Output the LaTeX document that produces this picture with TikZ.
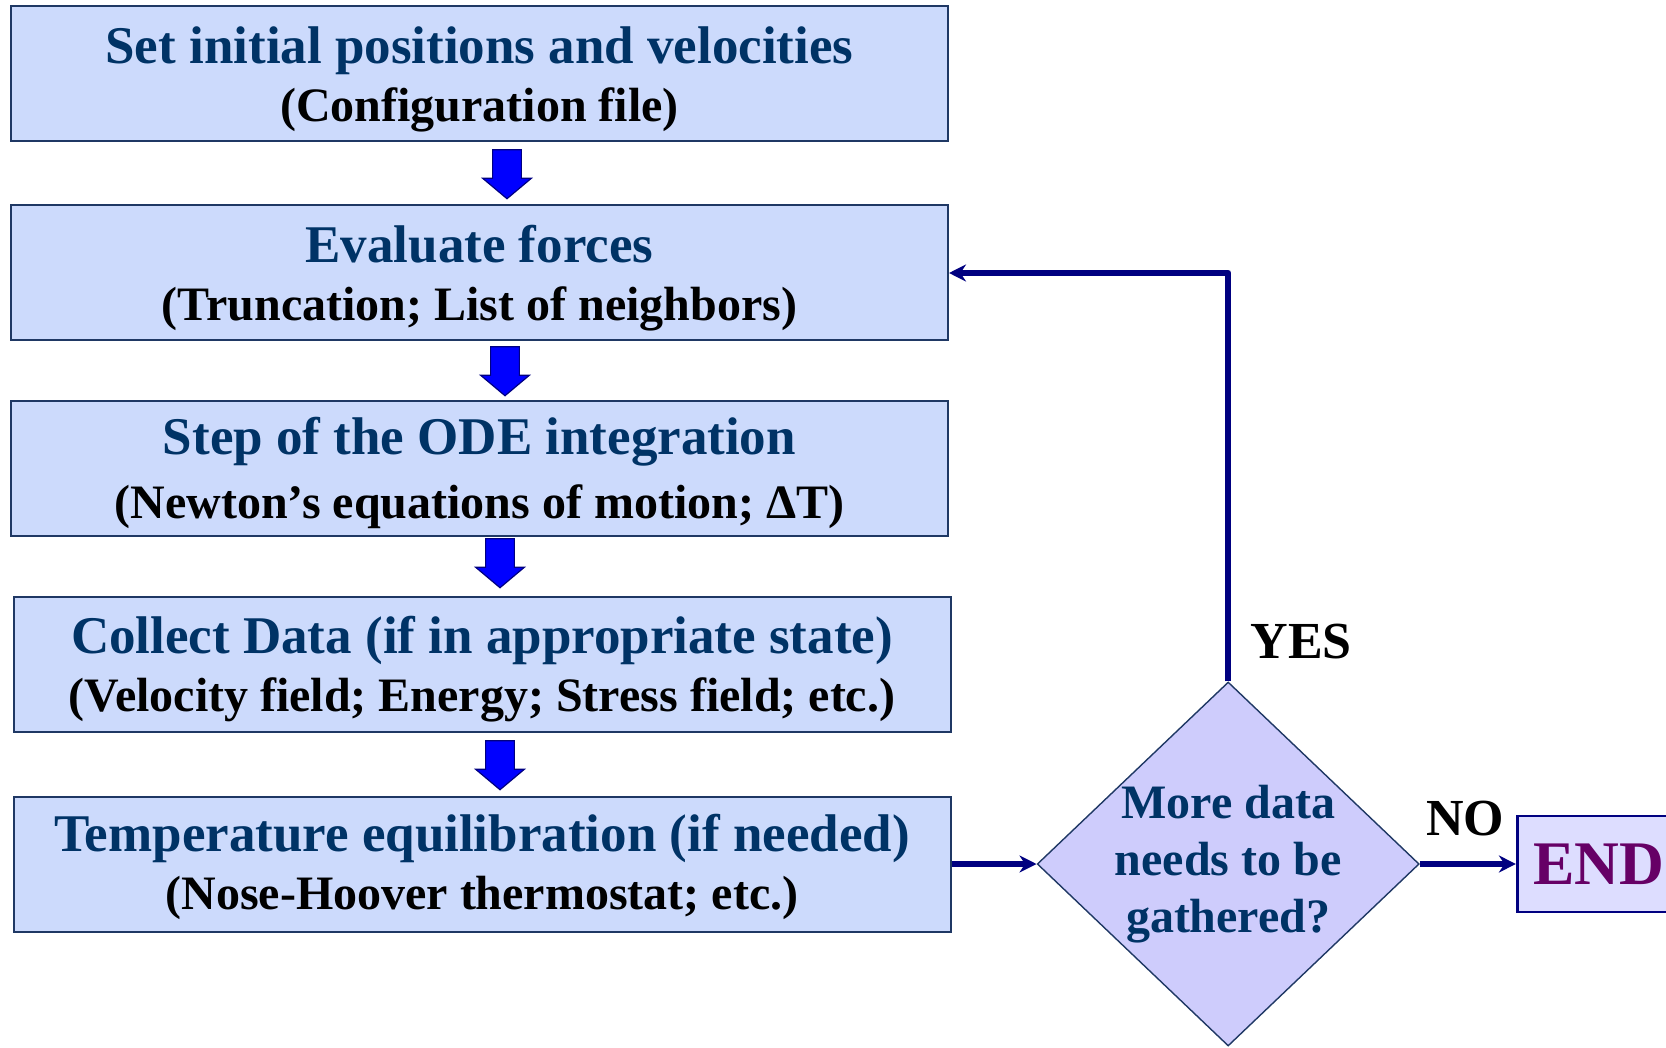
\documentclass[tikz,border=0pt]{standalone}
\usepackage{xcolor}
\usepackage{fontspec}
\setmainfont{Liberation Serif}
\usepackage{tikz}
\usetikzlibrary{
  arrows.meta,
  positioning,
  calc,
  shapes.geometric,
  shapes.arrows
}

\definecolor{boxfill}{RGB}{204,218,252}
\definecolor{boxline}{RGB}{31,56,100}
\definecolor{titleblue}{RGB}{0,51,102}
\definecolor{navyline}{RGB}{0,0,128}
\definecolor{diamfill}{RGB}{206,204,252}
\definecolor{endfill}{RGB}{221,221,255}
\definecolor{endtext}{RGB}{102,0,102}

\newcommand{\steptitle}[1]{{\fontsize{26.5}{29}\selectfont\color{titleblue}#1}}

\begin{document}
\begin{tikzpicture}[
    >=Stealth,
    node distance=31pt,
    stage/.style={
        draw=boxline,
        fill=boxfill,
        line width=1pt,
        minimum width=468.5pt,
        minimum height=67.5pt,
        inner sep=0pt,
        text depth=-3.4pt,
        align=center,
        font=\fontsize{24}{29}\selectfont\bfseries
    },
    decision/.style={
        diamond,
        draw=boxline,
        fill=diamfill,
        line width=0.7pt,
        minimum width=191pt,
        minimum height=182pt,
        inner sep=0pt
    },
    question/.style={
        align=center,
        text=titleblue,
        inner sep=0pt,
        font=\fontsize{24}{28.5}\selectfont\bfseries
    },
    finish/.style={
        draw=navyline,
        fill=endfill,
        line width=1.3pt,
        minimum height=48pt,
        inner xsep=8pt,
        text=endtext,
        font=\fontsize{31}{31}\selectfont\bfseries
    },
    answer/.style={
        inner sep=0pt,
        font=\fontsize{26}{26}\selectfont\bfseries
    },
    downarrow/.style={
        single arrow,
        draw=navyline,
        fill=blue,
        line width=0.6pt,
        rotate=-90,
        anchor=tip,
        inner xsep=0pt,
        inner ysep=6.8pt,
        minimum width=24.5pt,
        minimum height=24.5pt,
        single arrow head extend=5pt,
        single arrow tip angle=100,
        single arrow head indent=0pt
    },
    link/.style={
        ->,
        line width=3.2pt,
        line join=round,
        navyline,
        >={Stealth[length=8.5pt,width=8.5pt]}
    }
]

\useasboundingbox (0,0) rectangle (833pt,-524pt);

% ============================================================
% STAGES
% ============================================================

\node[stage] (init) at (239.75pt,-37pt) {
    \steptitle{Set initial positions and velocities}\\
    (Configuration file)
};
\node[stage, below=31pt of init] (force) {
    \steptitle{Evaluate forces}\\
    (Truncation; List of neighbors)
};
\node[stage, below=29pt of force] (ode) {
    \steptitle{Step of the ODE integration}\\[3pt]
    (Newton’s equations of motion; ΔT)
};
\node[stage, below=29.5pt of ode, xshift=1.25pt] (collect) {
    \steptitle{Collect Data (if in appropriate state)}\\
    (Velocity field; Energy; Stress field; etc.)
};
\node[stage, below=31.5pt of collect, text depth=2pt] (temp) {
    \steptitle{Temperature equilibration (if needed)}\\
    (Nose-Hoover thermostat; etc.)
};

% ============================================================
% BLOCK ARROWS
% ============================================================

\node[downarrow] (a1) at ($(force.north)+(13.75pt,2.5pt)$) {};
\node[downarrow] (a2) at ($(ode.north)+(12.75pt,1.5pt)$) {};
\node[downarrow] (a3) at ($(collect.north)+(9pt,3.5pt)$) {};
\node[downarrow] (a4) at ($(temp.north)+(9pt,2.5pt)$) {};

% ============================================================
% DECISION
% ============================================================

\node[decision, right=42.5pt of temp] (dec) {};
\node[question] (decq) at (dec.center) {
    More data\\
    needs to be\\
    gathered?
};

\node[finish, right=48pt of dec] (end) {END};

\node[answer, above right=11pt and 11pt of dec.north] (yes) {YES};
\node[answer, above right=14pt and 3pt of dec.east] (no) {NO};

% ============================================================
% CONNECTORS
% ============================================================

\draw[link] (temp.east) -- (dec.west);
\draw[link] (dec.north) |- (force.east);
\draw[link] (dec.east) -- (end.west);

\end{tikzpicture}
\end{document}
